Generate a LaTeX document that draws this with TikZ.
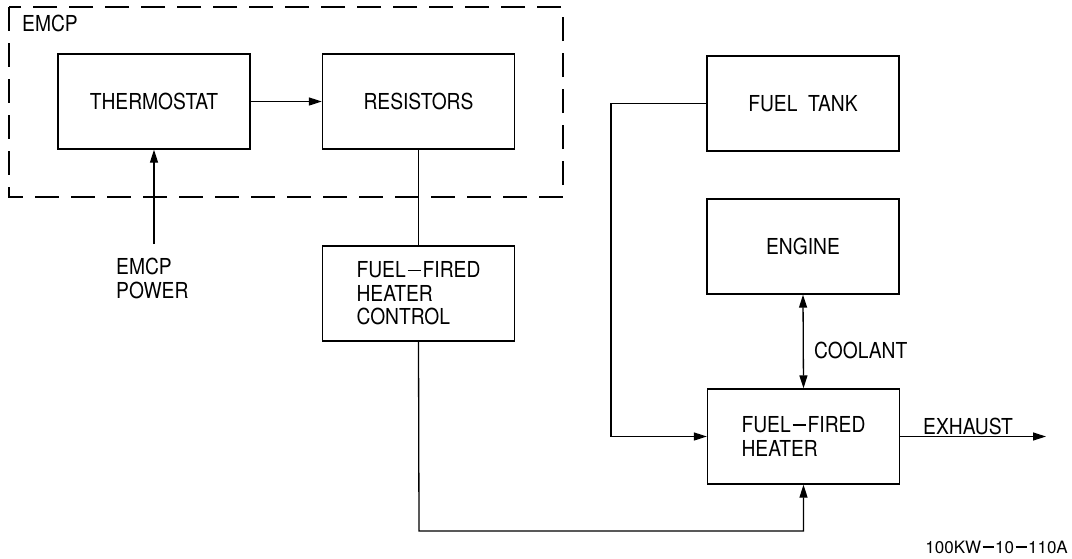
\documentclass[tikz,border=0pt]{standalone}
\usepackage{fontspec}
\setmainfont[FakeStretch=0.875]{TeX Gyre Heros}
\newfontfamily\tagfont{TeX Gyre Heros}
\newcommand\dashbar{\makebox[17pt]{\rule[7pt]{13pt}{1.3pt}}}
\newcommand\tagdash{\makebox[14pt]{\rule[5.5pt]{11pt}{1.1pt}}}
\usetikzlibrary{arrows.meta}
\begin{document}
\begin{tikzpicture}[x=1pt,y=-1pt,
  every node/.style={font=\fontsize{22}{23.5}\selectfont, inner sep=0pt},
  blk/.style={draw, line width=1.3pt, minimum width=192pt, minimum height=95pt, align=left},
  wire/.style={line width=1.3pt},
  arr/.style={wire, -{Triangle[length=13pt,width=8pt]}},
  darr/.style={wire, {Triangle[length=13pt,width=8pt]}-{Triangle[length=13pt,width=8pt]}},
  grp/.style={draw, line width=1.3pt, dash pattern=on 24pt off 12pt}]
\useasboundingbox (0,0) rectangle (1072,558);
% group box
\draw[grp] (9,7) rectangle (563,197);
\node[anchor=west] (emcp) at (22,23) {EMCP};
% blocks
\node[blk] (thermo) at (154,101.5) {THERMOSTAT};
\node[blk] (resist) at (418.5,101.5) {RESISTORS};
\node[blk] (tank) at (803,103.5) {FUEL\ \ TANK};
\node[blk] (engine) at (803,246.5) {ENGINE};
\node[blk] (ctrl) at (418.5,293.5) {FUEL\dashbar FIRED\\HEATER\\CONTROL};
\node[blk] (heater) at (803.5,436.5) {FUEL\dashbar FIRED\\HEATER};
% labels
\node[align=left, anchor=west] (power) at (116,278.5) {EMCP\\POWER};
\node[anchor=west] (coolant) at (814,350) {COOLANT};
\node[anchor=west] (exhaust) at (923,426) {EXHAUST};
\node[anchor=east, font=\tagfont\fontsize{17}{19}\selectfont] (tag) at (1068,547) {100KW\tagdash 10\tagdash 110A};
% coordinates
\coordinate (psrc) at (154,244);
\coordinate (cbend) at (419,531);
\coordinate (fbend) at (611,103.5);
\coordinate (exend) at (1046,436.5);
% connectors
\draw[arr] (thermo.east) -- (resist.west);
\draw[arr] (psrc) -- (thermo.south);
\draw[wire] (resist.south) -- (ctrl.north);
\draw[arr] (ctrl.south) -- (cbend) -| (heater.south);
\draw[arr] (tank.west) -- (fbend) |- (heater.west);
\draw[darr] (engine.south) -- (heater.north);
\draw[arr] (heater.east) -- (exend);
\end{tikzpicture}
\end{document}
